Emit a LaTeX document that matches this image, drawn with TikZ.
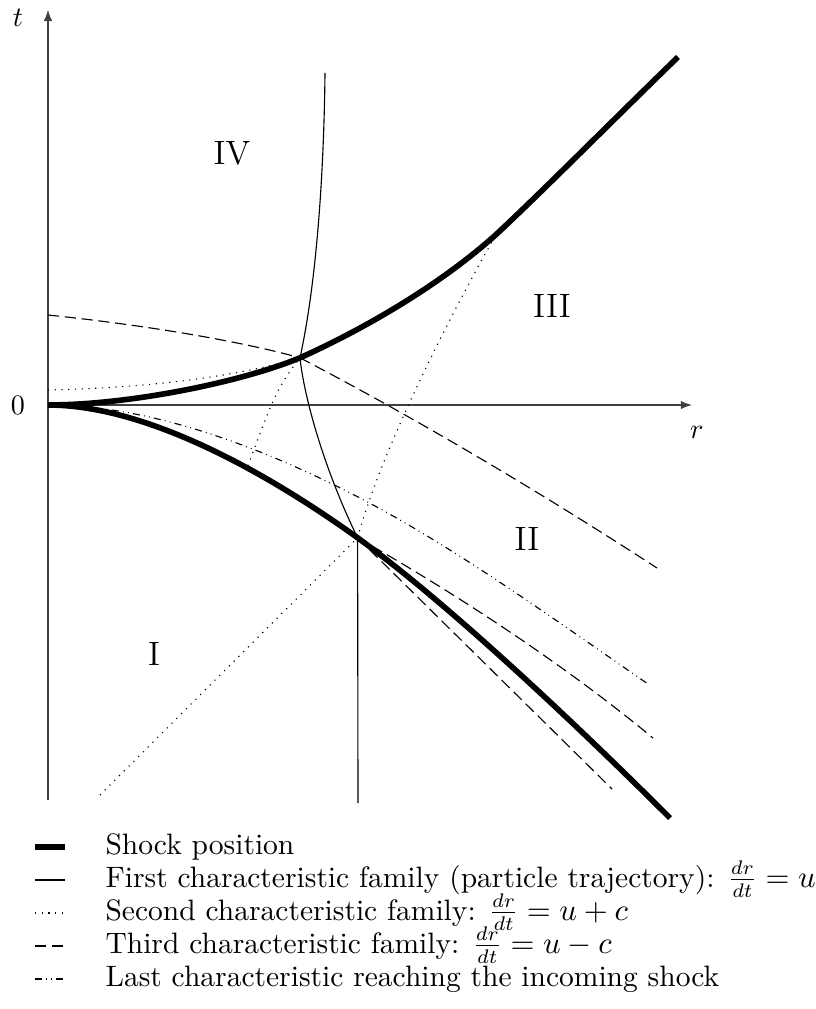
\documentclass[tikz,border=0pt]{standalone}
\usepackage{amsmath}
\usetikzlibrary{arrows.meta}

\tikzset{
  axis/.style={thin, black!75, -{Latex[length=4pt, width=3pt]}},
  shock/.style={line width=2pt},
  particle/.style={thin},
  second/.style={thin, dotted},
  third/.style={thin, dash pattern=on 4pt off 2pt},
  lastchar/.style={thin, dash pattern=on 2.5pt off 1.5pt on 0.3pt off 1.5pt on 0.3pt off 1.5pt},
  region/.style={font=\large},
  legtext/.style={anchor=base west, inner sep=0pt, font=\fontsize{10.5pt}{12.6pt}\selectfont},
}

\begin{document}
\begin{tikzpicture}
      \useasboundingbox (-0.6,-7.55) rectangle (9.5875,5.0625);

      % axes
      \coordinate (O) at (0,0);
      \coordinate (tbot) at (0,-4.94);
      \coordinate (ttop) at (0,4.94);
      \coordinate (rend) at (8.05,0);
      \draw[axis] (tbot) -- (ttop);
      \draw[axis] (O) -- (rend);
      \node (tlab) at (-0.375,4.84) {$t$};
      \node (zero) at (-0.375,0) {$0$};
      \node (rlab) at (8.11,-0.34) {$r$};

      % meeting points
      \coordinate (A) at (3.15,0.59);
      \coordinate (B) at (3.87,-1.66);
      \coordinate (C) at (2.5,-0.76);
      \coordinate (D) at (0.65,-4.875);
      \coordinate (E) at (5.6,2.13);
      \coordinate (F) at (3.9,-1.1625);

      % second family (u+c)
      \draw[second] (0,0.1875) .. controls (1.5,0.22) and (2.5,0.4) .. (A);
      \draw[second] (C) .. controls (2.8,0.05) and (2.85,0.2) .. (A);
      \draw[second] (D) -- (B);
      \draw[second] (B) .. controls (4.2,-0.45) and (5.15,1.34) .. (E);

      % third family (u-c)
      \draw[third] (0,1.125) .. controls (1.2,1.0) and (2.4,0.8) .. (A);
      \draw[third] (A) .. controls (5.0,-0.38) and (6.6,-1.38) .. (7.6125,-2.0375);
      \draw[third] (B) .. controls (5.0,-2.3) and (6.4,-3.2) .. (7.5625,-4.1625);
      \draw[third] (B) -- (7.05,-4.8);

      % last characteristic reaching the incoming shock
      \draw[lastchar] (O) .. controls (1.3,0) and (2.7,-0.54) .. (F)
                          .. controls (5.1,-1.79) and (6.3,-2.66) .. (7.5,-3.4875);

      % particle trajectory
      \draw[particle] (3.4625,4.15) .. controls (3.45,3.0) and (3.37,1.6) .. (A);
      \draw[particle] (A) .. controls (3.2,0.1) and (3.45,-0.8) .. (B) -- (3.875,-4.975);

      % shocks
      \draw[shock] (O) .. controls (1.0,0) and (2.4,0.28) .. (A)
                       .. controls (3.95,0.95) and (4.9,1.5) .. (E)
                       .. controls (6.2,2.69) and (7.0,3.5) .. (7.875,4.35);
      \draw[shock] (O) .. controls (1.3,0) and (2.87,-0.94) .. (B)
                       .. controls (5.07,-2.53) and (6.775,-4.1625) .. (7.775,-5.1625);

      % regions
      \node[region] (rI) at (1.325,-3.1125) {I};
      \node[region] (rII) at (5.9875,-1.675) {II};
      \node[region] (rIII) at (6.3,1.2375) {III};
      \node[region] (rIV) at (2.3,3.15) {IV};

      % legend
      \draw[shock] (-0.1625,-5.525) -- (0.2125,-5.525);
      \draw[particle] (-0.1625,-5.9375) -- (0.2125,-5.9375);
      \draw[second] (-0.1625,-6.35) -- (0.25,-6.35);
      \draw[third] (-0.1625,-6.7625) -- (0.2125,-6.7625);
      \draw[lastchar] (-0.1625,-7.175) -- (0.2125,-7.175);
      \node[legtext] (leg1) at (0.7125,-5.6125) {Shock position};
      \node[legtext] (leg2) at (0.7125,-6.025) {First characteristic family (particle trajectory): $\frac{dr}{dt}=u$};
      \node[legtext] (leg3) at (0.7125,-6.4375) {Second characteristic family: $\frac{dr}{dt}=u+c$};
      \node[legtext] (leg4) at (0.7125,-6.85) {Third characteristic family: $\frac{dr}{dt}=u-c$};
      \node[legtext] (leg5) at (0.7125,-7.2625) {Last characteristic reaching the incoming shock};

\end{tikzpicture}
\end{document}
